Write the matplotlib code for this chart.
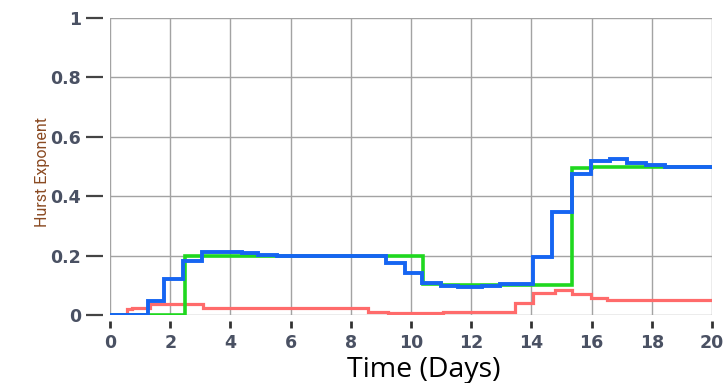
#!/usr/bin/env python3
"""Hurst exponent over time for three estimators, drawn as step traces."""

import matplotlib

matplotlib.use("Agg")

import matplotlib.pyplot as plt
import numpy as np

# step change times (days) and the level held from each time onward
blue_t = [0.0, 1.26, 1.79, 2.41, 3.07, 4.37, 4.93, 5.54, 9.17, 9.80, 10.35, 11.0,
          11.56, 12.35, 12.96, 14.06, 14.70, 15.34, 15.97, 16.60, 17.17, 17.80, 18.44]
blue_h = [0.0, 0.047, 0.12, 0.182, 0.213, 0.208, 0.203, 0.2, 0.176, 0.142, 0.107, 0.098,
          0.093, 0.099, 0.104, 0.196, 0.348, 0.475, 0.518, 0.525, 0.513, 0.504, 0.5]

green_t = [0.0, 2.49, 10.40, 11.0, 13.0, 15.34, 16.0]
green_h = [0.0, 0.2, 0.104, 0.1, 0.102, 0.494, 0.5]

red_t = [0.0, 0.55, 0.72, 1.33, 3.09, 8.57, 9.24, 11.07, 13.45, 14.06, 14.80, 15.34, 15.97, 16.50]
red_h = [0.0, 0.019, 0.025, 0.037, 0.022, 0.011, 0.008, 0.011, 0.041, 0.073, 0.084, 0.071, 0.056, 0.05]

T_END = 20.0
x_ticks = np.arange(0, 21, 2)
y_ticks = [0, 0.2, 0.4, 0.6, 0.8, 1]
y_ticklabels = ["0", "0.2", "0.4", "0.6", "0.8", "1"]


def stairs(ax, t, h, **kw):
    edges = list(t) + [T_END]
    ax.stairs(h, edges, baseline=None, **kw)


fig = plt.figure(figsize=(7.27, 3.83), dpi=100)
fig.patch.set_facecolor("white")
ax = fig.add_axes([0.1513, 0.1775, 0.828, 0.7755])

ax.set_xlim(0, 20)
ax.set_ylim(0, 1)
ax.set_xticks(x_ticks)
ax.set_yticks(y_ticks)
ax.set_yticklabels(y_ticklabels)

ax.grid(True, color="#a3a3a3", linewidth=1.0)
ax.set_axisbelow(True)
for line in ax.get_xgridlines()[-1:]:
    line.set_visible(False)
for line in ax.get_ygridlines()[:1]:
    line.set_visible(False)

for side in ("top", "right", "bottom", "left"):
    ax.spines[side].set_visible(False)
ax.spines["bottom"].set_position(("outward", 4))
ax.spines["left"].set_position(("outward", 5))

ax.tick_params(axis="x", direction="out", length=5, width=2, color="#333333",
               pad=5, labelsize=12.5, labelcolor="#4a5163")
ax.tick_params(axis="y", direction="out", length=12, width=1.6, color="#444444",
               pad=4, labelsize=12.5, labelcolor="#4a5163")
for lab in ax.get_xticklabels() + ax.get_yticklabels():
    lab.set_fontweight("bold")

stairs(ax, red_t, red_h, color="#ff6b6b", linewidth=2.3, zorder=3)
stairs(ax, green_t, green_h, color="#1fd81f", linewidth=2.6, zorder=4)
stairs(ax, blue_t, blue_h, color="#1665f2", linewidth=2.8, zorder=5)

ax.set_xlabel("Time (Days)", fontsize=20.5, family=["Open Sans", "DejaVu Sans"],
              color="black")
ax.xaxis.set_label_coords(0.522, -0.138)
ax.set_ylabel("Hurst Exponent", fontsize=11.5, family=["Roboto", "DejaVu Sans"],
              color="#8a4a22")
ax.yaxis.set_label_coords(-0.1, 0.48)

fig.savefig("out.png", dpi=100)
